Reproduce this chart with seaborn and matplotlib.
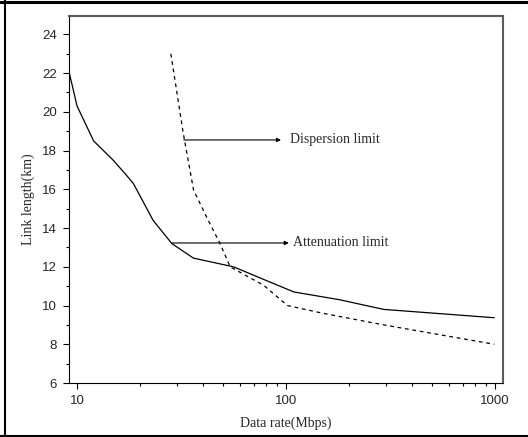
import numpy as np
import pandas as pd
import seaborn as sns
import matplotlib.pyplot as plt
from matplotlib.ticker import MultipleLocator, FixedLocator, FixedFormatter, NullFormatter
from matplotlib.lines import Line2D

# ---------- datos ----------
aten_rate = [9.16, 10.0, 12.0, 14.9, 17.0, 18.6, 23.1, 28.4, 36.0, 56.0, 78.0, 109, 180, 293, 990]
aten_len = [22.05, 20.3, 18.5, 17.5, 16.8, 16.3, 14.4, 13.2, 12.45, 12.0, 11.35, 10.7, 10.3, 9.8, 9.37]

disp_rate = [28.1, 32.2, 36.1, 42.4, 48.3, 54.0, 78.0, 101.5, 150, 293, 990]
disp_len = [23.0, 18.9, 15.95, 14.4, 13.2, 12.0, 11.05, 10.0, 9.6, 9.0, 8.0]

y_ticks = [6, 8, 10, 12, 14, 16, 18, 20, 22, 24]
x_ticks = [10, 100, 1000]
x_tick_labels = ["10", "100", "1000"]

sns.set_style("ticks")
plt.rcParams["font.family"] = ["Liberation Serif", "DejaVu Serif"]

fig = plt.figure(figsize=(5.28, 4.37), dpi=100)
ax = fig.add_axes([69 / 528, 54 / 437, 434 / 528, 367 / 437])
ax.set_xscale("log")

df_a = pd.DataFrame({"rate": aten_rate, "len": aten_len})
df_d = pd.DataFrame({"rate": disp_rate, "len": disp_len})
sns.lineplot(data=df_a, x="rate", y="len", color="black", lw=0.9, sort=False, ax=ax)
sns.lineplot(data=df_d, x="rate", y="len", color="black", lw=0.9, sort=False,
             dashes=False, ax=ax).lines[-1].set_dashes((3, 3))

ax.set_xlim(9.15, 1090)
ax.set_ylim(6, 24.95)

# ticks
ax.yaxis.set_major_locator(FixedLocator(y_ticks))
ax.yaxis.set_minor_locator(MultipleLocator(1))
ax.xaxis.set_major_locator(FixedLocator(x_ticks))
ax.xaxis.set_major_formatter(FixedFormatter(x_tick_labels))
minors = [m * d for d in (10, 100) for m in range(2, 10)]
ax.xaxis.set_minor_locator(FixedLocator(minors))
ax.xaxis.set_minor_formatter(NullFormatter())
ax.tick_params(which="major", direction="out", length=4.5, width=0.8, color="black",
               labelsize=9.5, pad=4, labelfontfamily="Liberation Sans")
ax.tick_params(which="minor", direction="out", length=2.5, width=0.8, color="black")

for s in ("top", "right"):
    ax.spines[s].set_color("#5a5a5a")
    ax.spines[s].set_linewidth(1.5)
for s in ("left", "bottom"):
    ax.spines[s].set_color("black")
    ax.spines[s].set_linewidth(0.8)

ax.set_xlabel("Data rate(Mbps)", fontsize=10, labelpad=7)
ax.set_ylabel("Link length(km)", fontsize=10, labelpad=5)

# anotaciones
arrow = dict(arrowstyle="-|>", color="black", lw=0.8, mutation_scale=6, shrinkA=0, shrinkB=0)
ax.annotate("", xy=(94.5, 18.55), xytext=(32.4, 18.55), arrowprops=arrow)
ax.text(104, 18.55, "Dispersion limit", fontsize=10, va="center", ha="left")
ax.annotate("", xy=(103, 13.23), xytext=(28.4, 13.23), arrowprops=arrow)
ax.text(108, 13.23, "Attenuation limit", fontsize=10, va="center", ha="left")

# marco exterior
fig.add_artist(Line2D([0, 1], [1 - 1.5 / 437, 1 - 1.5 / 437], color="black", lw=2.2))
fig.add_artist(Line2D([5 / 528, 5 / 528], [0, 1], color="black", lw=1.5))
fig.add_artist(Line2D([0, 1], [1.5 / 437, 1.5 / 437], color="black", lw=1.5))

fig.savefig("out.png", dpi=100)
